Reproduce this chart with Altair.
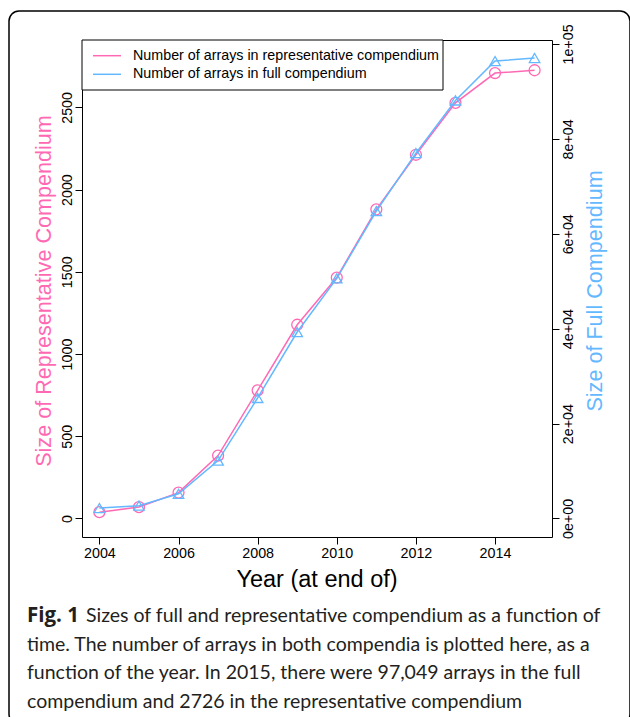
import altair as alt
import pandas as pd

# ---- data ----
years = [2004, 2005, 2006, 2007, 2008, 2009, 2010, 2011, 2012, 2013, 2014, 2015]
rep_sizes = [38, 69, 157, 382, 779, 1178, 1465, 1880, 2212, 2528, 2709, 2726]
full_sizes = [2200, 2700, 5200, 12200, 25400, 39300, 50600, 64800, 77000, 88100, 96400, 97049]

x_ticks = [2004, 2006, 2008, 2010, 2012, 2014]
left_ticks = [0, 500, 1000, 1500, 2000, 2500]
right_ticks = [0, 20000, 40000, 60000, 80000, 100000]

legend_labels = ["Number of arrays in representative compendium",
                 "Number of arrays in full compendium"]
left_title = "Size of Representative Compendium"
right_title = "Size of Full Compendium"
x_title = "Year (at end of)"
caption_bold = "Fig. 1"
caption_lines = [
    "Sizes of full and representative compendium as a function of",
    "time. The number of arrays in both compendia is plotted here, as a",
    "function of the year. In 2015, there were 97,049 arrays in the full",
    "compendium and 2726 in the representative compendium",
]

PINK = "#FF69B4"
BLUE = "#63B8FF"
FONT = "Liberation Sans"
LAB = 14.3

df = pd.DataFrame({"year": years, "rep": rep_sizes, "full": full_sizes})
one = pd.DataFrame({"k": [0]})

xscale = alt.Scale(domain=[2003.56, 2015.44], nice=False, zero=False)
xaxis = alt.Axis(values=x_ticks, format="d", title=None, grid=False, domain=False,
                 tickSize=7, tickColor="black", labelColor="black",
                 labelFontSize=LAB, labelFont=FONT, labelPadding=2, labelFlush=False)

lscale = alt.Scale(domain=[-113, 2910], nice=False, zero=False)
laxis = alt.Axis(orient="left", values=left_ticks, format="d", title=None, grid=False,
                 domain=False, tickSize=7, tickColor="black", labelColor="black",
                 labelFontSize=LAB, labelFont=FONT, labelAngle=-90, labelAlign="center",
                 labelBaseline="bottom", labelPadding=1, labelFlush=False)

rscale = alt.Scale(domain=[-3900, 100840], nice=False, zero=False)
raxis = alt.Axis(orient="right", values=right_ticks, title=None, grid=False, domain=False,
                 tickSize=7, tickColor="black", labelColor="black", labelFontSize=LAB,
                 labelFont=FONT, labelAngle=-90, labelAlign="center",
                 labelBaseline="top", labelPadding=2, labelFlush=False,
                 labelExpr="replace(format(datum.value, '.0e'), 'e+', 'e+0')")

base = alt.Chart(df)
x_enc = alt.X("year:Q", scale=xscale, axis=xaxis)

rep_layer = alt.layer(
    base.mark_line(color=PINK, strokeWidth=1.5).encode(
        x=x_enc, y=alt.Y("rep:Q", scale=lscale, axis=laxis)),
    base.mark_point(shape="circle", filled=False, color=PINK, size=120, strokeWidth=1.3,
                    opacity=1).encode(
        x="year:Q", y="rep:Q"),
)

full_layer = alt.layer(
    base.mark_line(color=BLUE, strokeWidth=1.5).encode(
        x=x_enc, y=alt.Y("full:Q", scale=rscale, axis=raxis)),
    base.mark_point(shape="triangle-up", filled=False, color=BLUE, size=110,
                    strokeWidth=1.3, opacity=1).encode(
        x="year:Q", y="full:Q"),
)

deco = []
# outer rounded frame
deco.append(alt.Chart(one).mark_rect(fill=None, stroke="black", strokeWidth=1.5,
                                     cornerRadius=10).encode(
    x=alt.value(-73), x2=alt.value(548), y=alt.value(-29), y2=alt.value(684)))

# legend
deco.append(alt.Chart(one).mark_rect(fill="white", stroke="black", strokeWidth=1).encode(
    x=alt.value(0), x2=alt.value(361), y=alt.value(0), y2=alt.value(50)))
for i, (lab, col) in enumerate(zip(legend_labels, [PINK, BLUE])):
    yy = 15.7 + i * 18.6
    deco.append(alt.Chart(one).mark_rule(color=col, strokeWidth=1.5).encode(
        x=alt.value(11), x2=alt.value(39), y=alt.value(yy)))
    deco.append(alt.Chart(pd.DataFrame({"t": [lab]})).mark_text(
        align="left", baseline="middle", font=FONT, fontSize=LAB, color="black").encode(
        x=alt.value(51), y=alt.value(yy), text="t:N"))

# axis titles
deco.append(alt.Chart(pd.DataFrame({"t": [left_title]})).mark_text(
    align="center", baseline="middle", angle=270, font=FONT, fontSize=21.6, color=PINK).encode(
    x=alt.value(-37), y=alt.value(251), text="t:N"))
deco.append(alt.Chart(pd.DataFrame({"t": [right_title]})).mark_text(
    align="center", baseline="middle", angle=270, font=FONT, fontSize=21.6, color=BLUE).encode(
    x=alt.value(514), y=alt.value(251), text="t:N"))
deco.append(alt.Chart(pd.DataFrame({"t": [x_title]})).mark_text(
    align="center", baseline="middle", font=FONT, fontSize=23.5, color="black").encode(
    x=alt.value(235), y=alt.value(540), text="t:N"))

# caption
CAP_FONT = "Lato"
CAP_SIZE = 19.5
deco.append(alt.Chart(pd.DataFrame({"t": [caption_bold]})).mark_text(
    align="left", baseline="alphabetic", font="Open Sans", fontSize=20.5, fontWeight="bold",
    color="#231f20").encode(x=alt.value(-55), y=alt.value(582), text="t:N"))
for i, line in enumerate(caption_lines):
    xx = 4 if i == 0 else -55
    deco.append(alt.Chart(pd.DataFrame({"t": [line]})).mark_text(
        align="left", baseline="alphabetic", font=CAP_FONT, fontSize=CAP_SIZE,
        color="#231f20").encode(x=alt.value(xx), y=alt.value(582 + i * 28.5), text="t:N"))

chart = alt.layer(rep_layer, full_layer, *deco).resolve_scale(y="independent").properties(
    width=470, height=497,
    padding={"left": 82, "top": 40, "right": 78, "bottom": 180},
    autosize="none",
    background="white",
).configure_view(stroke="black", strokeWidth=1)

chart.save("out.html", embed_options={"renderer": "svg", "actions": False})
